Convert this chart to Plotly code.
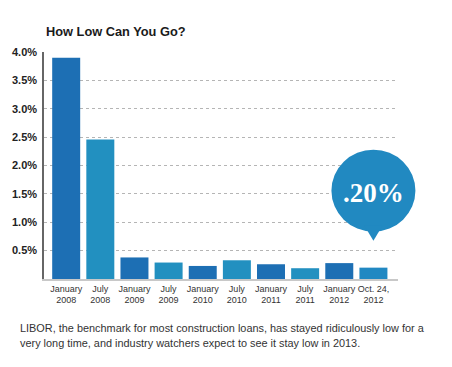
import plotly.graph_objects as go

categories = ["January<br>2008", "July<br>2008", "January<br>2009", "July<br>2009",
              "January<br>2010", "July<br>2010", "January<br>2011", "July<br>2011",
              "January<br>2012", "Oct. 24,<br>2012"]
libor = [3.90, 2.46, 0.38, 0.29, 0.23, 0.33, 0.26, 0.19, 0.28, 0.20]
ytick_vals = [0.5, 1.0, 1.5, 2.0, 2.5, 3.0, 3.5, 4.0]
ytick_text = ["0.5%", "1.0%", "1.5%", "2.0%", "2.5%", "3.0%", "3.5%", "4.0%"]

title_text = "How Low Can You Go?"
caption_1 = "LIBOR, the benchmark for most construction loans, has stayed ridiculously low for a"
caption_2 = "very long time, and industry watchers expect to see it stay low in 2013."

x_idx = list(range(len(categories)))
bar_colors = ["#1d6fb4" if c.startswith("Jan") else "#2290c0" for c in categories]
bar_colors[-1] = "#2188c2"

X_RANGE = [-0.65, 9.72]
Y_RANGE = [0, 4.0]

fig = go.Figure()
fig.add_trace(go.Bar(
    x=x_idx, y=libor, width=0.82,
    marker=dict(color=bar_colors, line=dict(width=0)),
    hoverinfo="skip",
))

last_i = x_idx[-1]
last_v = libor[-1]
# anchor of the callout, in paper coordinates (not clipped by the plot area)
anchor_px = (last_i - X_RANGE[0]) / (X_RANGE[1] - X_RANGE[0])
anchor_py = (last_v - Y_RANGE[0]) / (Y_RANGE[1] - Y_RANGE[0])
bubble_color = "#2189c1"

fig.add_shape(type="circle", xref="paper", yref="paper",
              xsizemode="pixel", ysizemode="pixel",
              xanchor=anchor_px, yanchor=anchor_py,
              x0=-42, x1=42, y0=36, y1=118,
              fillcolor=bubble_color, line=dict(width=0), layer="above")
fig.add_shape(type="path", xref="paper", yref="paper",
              xsizemode="pixel", ysizemode="pixel",
              xanchor=anchor_px, yanchor=anchor_py,
              path="M -9 42 L 9 42 L 0 27 Z",
              fillcolor=bubble_color, line=dict(width=0), layer="above")

bubble_label = ("%.2f" % last_v).lstrip("0") + "%"
fig.add_annotation(x=anchor_px, y=anchor_py, xref="paper", yref="paper", yshift=75,
                   text=bubble_label, showarrow=False,
                   font=dict(family="Liberation Serif, DejaVu Serif, serif",
                             size=27, color="white", weight="bold"),
                   xanchor="center", yanchor="middle")

fig.add_annotation(x=0, y=1.0925, xref="paper", yref="paper",
                   text=title_text, showarrow=False, xanchor="left", yanchor="middle",
                   font=dict(family="Liberation Sans, Arial, sans-serif", size=12.8,
                             color="#1a1a1a", weight="bold"))
fig.add_annotation(x=-0.0726, y=-0.216, xref="paper", yref="paper",
                   text=caption_1, showarrow=False, xanchor="left", yanchor="middle",
                   font=dict(family="Liberation Sans, Arial, sans-serif",
                             size=10.9, color="#333333"))
fig.add_annotation(x=-0.0726, y=-0.282, xref="paper", yref="paper",
                   text=caption_2, showarrow=False, xanchor="left", yanchor="middle",
                   font=dict(family="Liberation Sans, Arial, sans-serif",
                             size=10.9, color="#333333"))

fig.update_layout(
    width=452, height=367,
    margin=dict(l=40, r=54, t=52, b=88),
    paper_bgcolor="white", plot_bgcolor="white",
    showlegend=False,
    bargap=0.18,
    xaxis=dict(
        range=X_RANGE, tickvals=x_idx, ticktext=categories,
        showgrid=False, zeroline=False,
        showline=True, linecolor="#c8c8c8", linewidth=1.5,
        ticks="", tickfont=dict(family="Liberation Sans, Arial, sans-serif", size=9, color="#333333"),
        fixedrange=True,
    ),
    yaxis=dict(
        range=Y_RANGE, tickvals=ytick_vals, ticktext=ytick_text,
        showgrid=True, gridcolor="#b5b5b5", griddash="dot", gridwidth=1,
        zeroline=False, showline=True, linecolor="#666666", linewidth=1.5,
        ticks="", ticklabelstandoff=3,
        tickfont=dict(family="Liberation Sans, Arial, sans-serif", size=11,
                      color="#222222", weight="bold"),
        fixedrange=True,
    ),
)

fig.write_html("out.html", config={"displayModeBar": False},
               post_script="document.body.style.margin='0';")
